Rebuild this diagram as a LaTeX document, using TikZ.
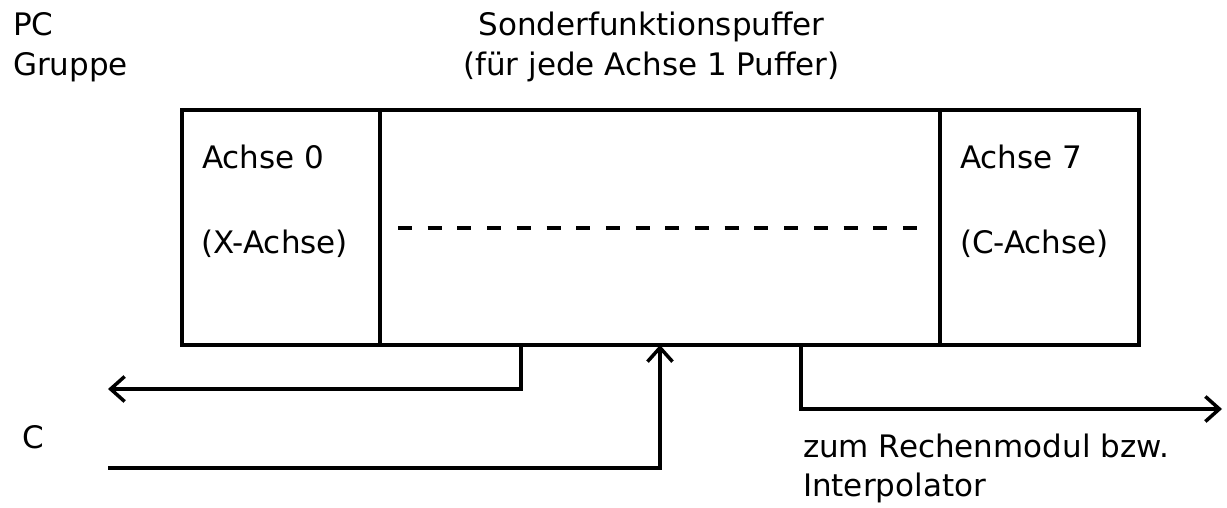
\documentclass[tikz,border=0pt]{standalone}
\usepackage{fontspec}
\setmainfont{DejaVu Sans}
\usetikzlibrary{arrows.meta}

\begin{document}
\begin{tikzpicture}[x=1pt,y=-1pt,
  font=\fontsize{31}{40}\selectfont,
  cell/.style={draw=black, line width=3.5pt, rectangle, outer sep=0pt, inner sep=0pt, minimum height=235pt},
  lbl/.style={inner sep=0pt, outer sep=0pt, anchor=base west},
  ttl/.style={inner sep=0pt, outer sep=0pt, anchor=base},
  wire/.style={line width=3.5pt},
  barb/.style={-{Straight Barb[length=14pt,width=25pt,line width=3.5pt]}}
]
\useasboundingbox (0,0) rectangle (1227,508);

% buffer cells: axis 0, middle, axis 7
\node[cell, minimum width=198pt] (ax0) at (281,227.5) {};
\node[cell, minimum width=560pt] (mid) at (660,227.5) {};
\node[cell, minimum width=199pt] (ax7) at (1039.5,227.5) {};

% placeholder for the axes in between
\draw[line width=3.5pt, dash pattern=on 14pt off 15.7pt] (398,228) -- (922,228);

% cell texts
\node[lbl] (a0) at (202,168) {Achse 0};
\node[lbl] (x0) at (201,253) {(X-Achse)};
\node[lbl] (a7) at (960,168) {Achse 7};
\node[lbl] (x7) at (960,253) {(C-Achse)};

% headings
\node[lbl] (pc) at (13,36) {PC};
\node[lbl] (grp) at (13,76) {Gruppe};
\node[ttl] (t1) at (651.5,36) {Sonderfunktionspuffer};
\node[ttl] (t2) at (651.5,76) {(für jede Achse 1 Puffer)};

% side labels
\node[lbl] (c) at (23,448) {C};
\node[lbl] (z1) at (803,457) {zum Rechenmodul bzw.};
\node[lbl] (z2) at (803,496) {Interpolator};

% connector end points
\coordinate (outL) at (108,389);
\coordinate (inC) at (108,468);
\coordinate (outR) at (1222,409);

% output to the PC group
\draw[wire, barb] ([xshift=-139pt]mid.south) |- (outL);
% input from C
\draw[wire, barb] (inC) -| (mid.south);
% output to the computing module
\draw[wire, barb] ([xshift=141pt]mid.south) |- (outR);
\end{tikzpicture}
\end{document}
